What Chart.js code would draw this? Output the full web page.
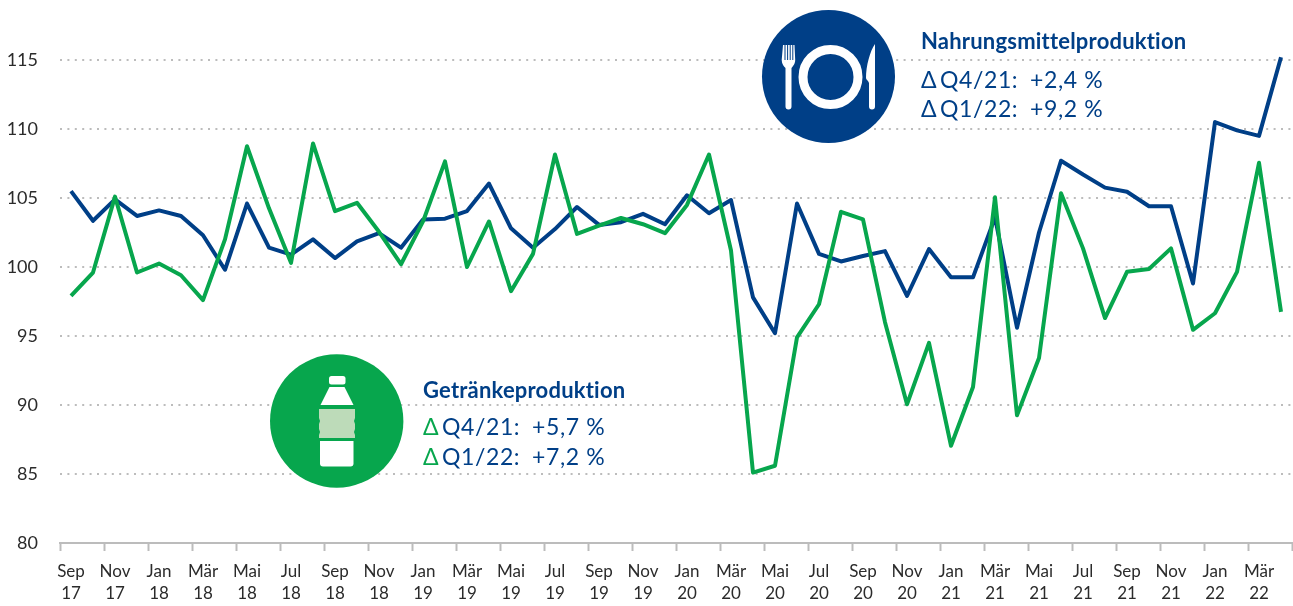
<!DOCTYPE html>
<html lang="de">
<head>
<meta charset="utf-8">
<title>Nahrungsmittel- und Getränkeproduktion</title>
<script src="https://cdn.jsdelivr.net/npm/chart.js@4"></script>
<style>
    html, body { margin:0; padding:0; background:#fff; overflow:hidden; }
    #wrap { position:relative; width:1293px; height:606px; font-family:"Lato",sans-serif; color:#003f87; }
    #myChart { position:absolute; left:0; top:0; }
    .txt { position:absolute; white-space:pre; line-height:1; }
    .head { font-weight:700; font-size:22px; letter-spacing:0.2px; }
    .row { font-size:23px; letter-spacing:0.6px; }
    .gr { color:#07a64d; }
    .d { display:inline-block; width:19px; }
    .l { display:inline-block; width:90px; }
    svg { position:absolute; left:0; top:0; }
</style>
</head>
<body>
<div id="wrap">
    <canvas id="myChart" width="1293" height="606"></canvas>

    <!-- Icons -->
    <svg width="1293" height="606">
        <circle cx="828.5" cy="76.5" r="66.5" fill="#003f87"/>
        <circle cx="830.5" cy="77" r="27.5" fill="none" stroke="#fff" stroke-width="9"/>
        <path fill="#fff" d="M783 45h1.5v15h1V45h1.6v15h1V45h1.6v15h1V45h1.6v15h1V45h1.2l.7 15c0 4-2.5 6.5-3.7 8v38.500a3 3 0 0 1-6 0V68c-1.500-1.500-3.800-4-3.800-8z"/>
        <path fill="#fff" d="M875 44c-5 7-9 22-9 34 0 1.500 2.500 3 3 5v23.500a3 3 0 0 0 6 0z"/>

        <circle cx="336.700" cy="421" r="66.700" fill="#07a64d"/>
        <rect x="329" y="376" width="16.500" height="8.500" rx="2.500" fill="#fff"/>
        <path fill="#fff" d="M329.500 387h15l9 18h-33z"/>
        <path fill="#bddbb9" d="M319 409h36v9l-1 3 1 3v5l-1 3 1 3v3h-36v-3l1-3-1-3v-5l1-3-1-3z"/>
        <path fill="#fff" d="M320 441h33.500v22.500a3 3 0 0 1-3 3h-27.500a3 3 0 0 1-3-3z"/>
    </svg>

    <!-- Text -->
    <div class="txt head" style="left:921px;top:30px">Nahrungsmittelproduktion</div>
    <div class="txt row" style="left:921px;top:68px"><span class="d">Δ</span><span class="l">Q4/21:</span>+2,4 %</div>
    <div class="txt row" style="left:921px;top:97px"><span class="d">Δ</span><span class="l">Q1/22:</span>+9,2 %</div>

    <div class="txt head" style="left:423px;top:379px">Getränkeproduktion</div>
    <div class="txt row" style="left:423px;top:415px"><span class="d gr">Δ</span><span class="l">Q4/21:</span>+5,7 %</div>
    <div class="txt row" style="left:423px;top:445px"><span class="d gr">Δ</span><span class="l">Q1/22:</span>+7,2 %</div>
</div>

<script>
// =============================
// Daten
// =============================
const monthLabels = [
    "Sep 17","Okt 17","Nov 17","Dez 17",
    "Jan 18","Feb 18","Mär 18","Apr 18","Mai 18","Jun 18","Jul 18","Aug 18","Sep 18","Okt 18","Nov 18","Dez 18",
    "Jan 19","Feb 19","Mär 19","Apr 19","Mai 19","Jun 19","Jul 19","Aug 19","Sep 19","Okt 19","Nov 19","Dez 19",
    "Jan 20","Feb 20","Mär 20","Apr 20","Mai 20","Jun 20","Jul 20","Aug 20","Sep 20","Okt 20","Nov 20","Dez 20",
    "Jan 21","Feb 21","Mär 21","Apr 21","Mai 21","Jun 21","Jul 21","Aug 21","Sep 21","Okt 21","Nov 21","Dez 21",
    "Jan 22","Feb 22","Mär 22","Apr 22"
];

const nahrung = [
    105.5,103.35,104.9,103.7,
    104.1,103.7,102.3,99.8,104.6,101.4,100.9,102.0,100.65,101.85,102.45,101.4,
    103.45,103.5,104.05,106.05,102.8,101.4,102.75,104.35,103.05,103.25,103.85,103.1,
    105.2,103.9,104.85,97.8,95.2,104.6,100.95,100.4,100.8,101.15,97.9,101.3,
    99.25,99.25,103.6,95.6,102.5,107.7,106.7,105.75,105.45,104.4,104.4,98.8,
    110.5,109.9,109.5,115.2
];

const getraenke = [
    97.9,99.6,105.1,99.6,
    100.25,99.4,97.6,102.0,108.75,104.25,100.3,108.95,104.05,104.65,102.55,100.2,
    103.3,107.65,100.0,103.3,98.25,100.95,108.15,102.4,103.0,103.55,103.1,102.45,
    104.5,108.15,101.2,85.1,85.6,94.9,97.3,104.0,103.45,96.0,90.05,94.5,
    87.05,91.3,105.05,89.25,93.4,105.35,101.35,96.3,99.65,99.85,101.35,95.45,
    96.65,99.65,107.55,96.75
];

const colorNahrung = "#003f87";
const colorGetraenke = "#07a64d";
const axisGray = "#bcbcbc";
const tickText = "#2b2b2b";

// =============================
// Chart
// =============================
new Chart(document.getElementById("myChart"),{
    type:"line",
    data:{
        labels:monthLabels,
        datasets:[
            {
                label:"Getränkeproduktion",
                data:getraenke,
                borderColor:colorGetraenke,
                borderWidth:4,
                pointRadius:0,
                tension:0,
                borderJoinStyle:"round",
                order:1
            },
            {
                label:"Nahrungsmittelproduktion",
                data:nahrung,
                borderColor:colorNahrung,
                borderWidth:4,
                pointRadius:0,
                tension:0,
                borderJoinStyle:"round",
                order:2
            }
        ]
    },
    options:{
        responsive:false,
        animation:false,
        layout:{padding:{top:4.8,right:1,left:0,bottom:0}},
        plugins:{
            legend:{display:false},
            tooltip:{enabled:false}
        },
        scales:{
            x:{
                offset:true,
                afterFit:(s)=>{ s.height = 63; },
                border:{display:true,color:axisGray,width:2},
                grid:{
                    offset:true,
                    drawOnChartArea:false,
                    drawTicks:true,
                    tickLength:8,
                    tickWidth:2,
                    // nur jeder zweite Monat bekommt einen Strich
                    tickColor:(ctx)=> (ctx.index === undefined || ctx.index % 2 === 0) ? axisGray : "rgba(0,0,0,0)"
                },
                ticks:{
                    autoSkip:false,
                    maxRotation:0,
                    minRotation:0,
                    padding:9,
                    color:tickText,
                    font:{family:"Lato",size:17,lineHeight:1.3},
                    callback:function(value,index){
                        if(index % 2 !== 0) return "";
                        return this.getLabelForValue(value).split(" ");
                    }
                }
            },
            y:{
                min:80,
                max:119,
                // Tick-Padding soll die Plotfläche oben nicht verkleinern
                afterFit:(s)=>{ s.width = 60; s.paddingTop = 0; s.paddingBottom = 0; },
                border:{display:false,dash:[2,5.4]},
                grid:{
                    drawTicks:false,
                    lineWidth:2,
                    color:(ctx)=> ctx.tick && ctx.tick.value === 80 ? "rgba(0,0,0,0)" : axisGray
                },
                ticks:{
                    stepSize:5,
                    includeBounds:false,
                    padding:22,
                    color:tickText,
                    font:{family:"Lato",size:18}
                }
            }
        }
    }
});
</script>
</body>
</html>
